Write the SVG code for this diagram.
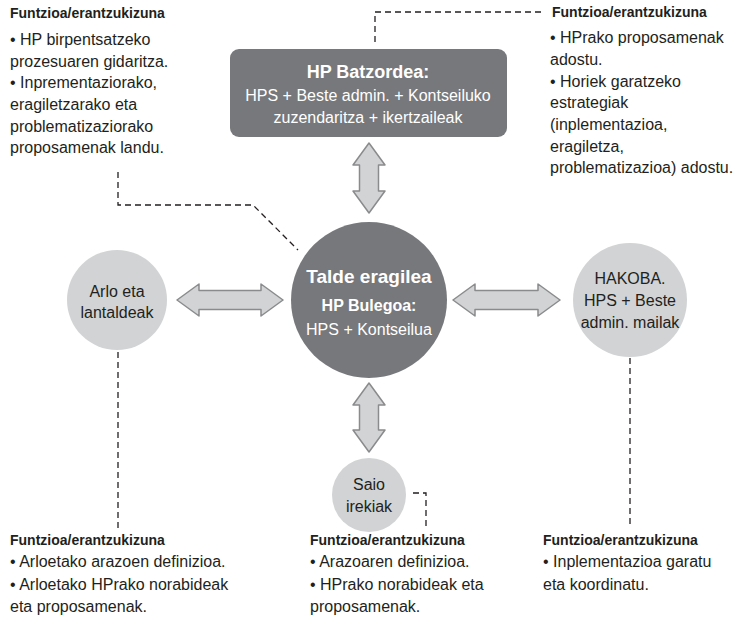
<svg xmlns="http://www.w3.org/2000/svg" width="739" height="627" viewBox="0 0 739 627">
<style>
.t{font-family:"Liberation Sans",Arial,sans-serif;font-size:16px;fill:#231f20}
.h{font-family:"Liberation Sans",Arial,sans-serif;font-size:14px;font-weight:bold;fill:#231f20}
.w{font-family:"Liberation Sans",Arial,sans-serif;font-size:16px;fill:#ffffff;text-anchor:middle}
.wb{font-family:"Liberation Sans",Arial,sans-serif;font-weight:bold;fill:#ffffff;text-anchor:middle}
.c{font-family:"Liberation Sans",Arial,sans-serif;font-size:16px;fill:#231f20;text-anchor:middle}
.dash{fill:none;stroke:#231f20;stroke-width:1.3;stroke-dasharray:6 4}
.arr{fill:#d1d3d4;stroke:#8a8b8d;stroke-width:1.5;stroke-linejoin:round}
.dark{fill:#77787b}
.light{fill:#d1d3d4}
</style>
<rect width="739" height="627" fill="#ffffff"/>
<g id="connectors">
<path class="dash" d="M118,172 V205 H253 L298,250"/>
<path class="dash" d="M375,42 V12 H543"/>
<path class="dash" d="M118,352 V528"/>
<path class="dash" d="M630,358 V528"/>
<path class="dash" d="M413,493 H426 V528"/>
<path class="arr" d="M177,300 L199,284 L199,290.5 L261,290.5 L261,284 L283,300 L261,316 L261,309.5 L199,309.5 L199,316 Z"/>
<path class="arr" d="M453,300 L475,284 L475,290.5 L538,290.5 L538,284 L560,300 L538,316 L538,309.5 L475,309.5 L475,316 Z"/>
<path class="arr" d="M369,143 L385,165 L378.5,165 L378.5,191 L385,191 L369,213 L353,191 L359.5,191 L359.5,165 L353,165 Z"/>
<path class="arr" d="M369,383 L385,405 L378.5,405 L378.5,430 L385,430 L369,452 L353,430 L359.5,430 L359.5,405 L353,405 Z"/>
</g>
<g id="batzordea">
<rect class="dark" x="230" y="49" width="277" height="88" rx="9"/>
<text class="wb" x="368" y="78" font-size="18">HP Batzordea:</text>
<text class="w" x="368" y="101">HPS + Beste admin. + Kontseiluko</text>
<text class="w" x="368" y="123">zuzendaritza + ikertzaileak</text>
</g>
<g id="talde">
<circle class="dark" cx="369" cy="300" r="78"/>
<text class="wb" x="369" y="283" font-size="19">Talde eragilea</text>
<text class="wb" x="369" y="311" font-size="16">HP Bulegoa:</text>
<text class="w" x="369" y="335">HPS + Kontseilua</text>
</g>
<g id="arlo">
<circle class="light" cx="117" cy="300" r="50"/>
<text class="c" x="117" y="297">Arlo eta</text>
<text class="c" x="117" y="318">lantaldeak</text>
</g>
<g id="hakoba">
<circle class="light" cx="630" cy="300" r="57"/>
<text class="c" x="630" y="284">HAKOBA.</text>
<text class="c" x="630" y="306">HPS + Beste</text>
<text class="c" x="630" y="328">admin. mailak</text>
</g>
<g id="saio">
<circle class="light" cx="369" cy="495" r="37"/>
<text class="c" x="369" y="490">Saio</text>
<text class="c" x="369" y="512">irekiak</text>
</g>
<g id="text-top-left">
<text class="h" x="10" y="18">Funtzioa/erantzukizuna</text>
<text class="t" x="10" y="45">• HP birpentsatzeko</text>
<text class="t" x="10" y="67">prozesuaren gidaritza.</text>
<text class="t" x="10" y="88">• Inprementaziorako,</text>
<text class="t" x="10" y="110">eragiletzarako eta</text>
<text class="t" x="10" y="132">problematizaziorako</text>
<text class="t" x="10" y="153">proposamenak landu.</text>
</g>
<g id="text-top-right">
<text class="h" x="552" y="17">Funtzioa/erantzukizuna</text>
<text class="t" x="550" y="43">• HPrako proposamenak</text>
<text class="t" x="550" y="65">adostu.</text>
<text class="t" x="550" y="87">• Horiek garatzeko</text>
<text class="t" x="550" y="108">estrategiak</text>
<text class="t" x="550" y="130">(inplementazioa,</text>
<text class="t" x="550" y="152">eragiletza,</text>
<text class="t" x="550" y="173">problematizazioa) adostu.</text>
</g>
<g id="text-bottom-left">
<text class="h" x="10" y="545">Funtzioa/erantzukizuna</text>
<text class="t" x="10" y="567">• Arloetako arazoen definizioa.</text>
<text class="t" x="10" y="590">• Arloetako HPrako norabideak</text>
<text class="t" x="10" y="612">eta proposamenak.</text>
</g>
<g id="text-bottom-middle">
<text class="h" x="310" y="545">Funtzioa/erantzukizuna</text>
<text class="t" x="310" y="567">• Arazoaren definizioa.</text>
<text class="t" x="310" y="590">• HPrako norabideak eta</text>
<text class="t" x="310" y="612">proposamenak.</text>
</g>
<g id="text-bottom-right">
<text class="h" x="543" y="545">Funtzioa/erantzukizuna</text>
<text class="t" x="543" y="567">• Inplementazioa garatu</text>
<text class="t" x="543" y="590">eta koordinatu.</text>
</g>
</svg>
